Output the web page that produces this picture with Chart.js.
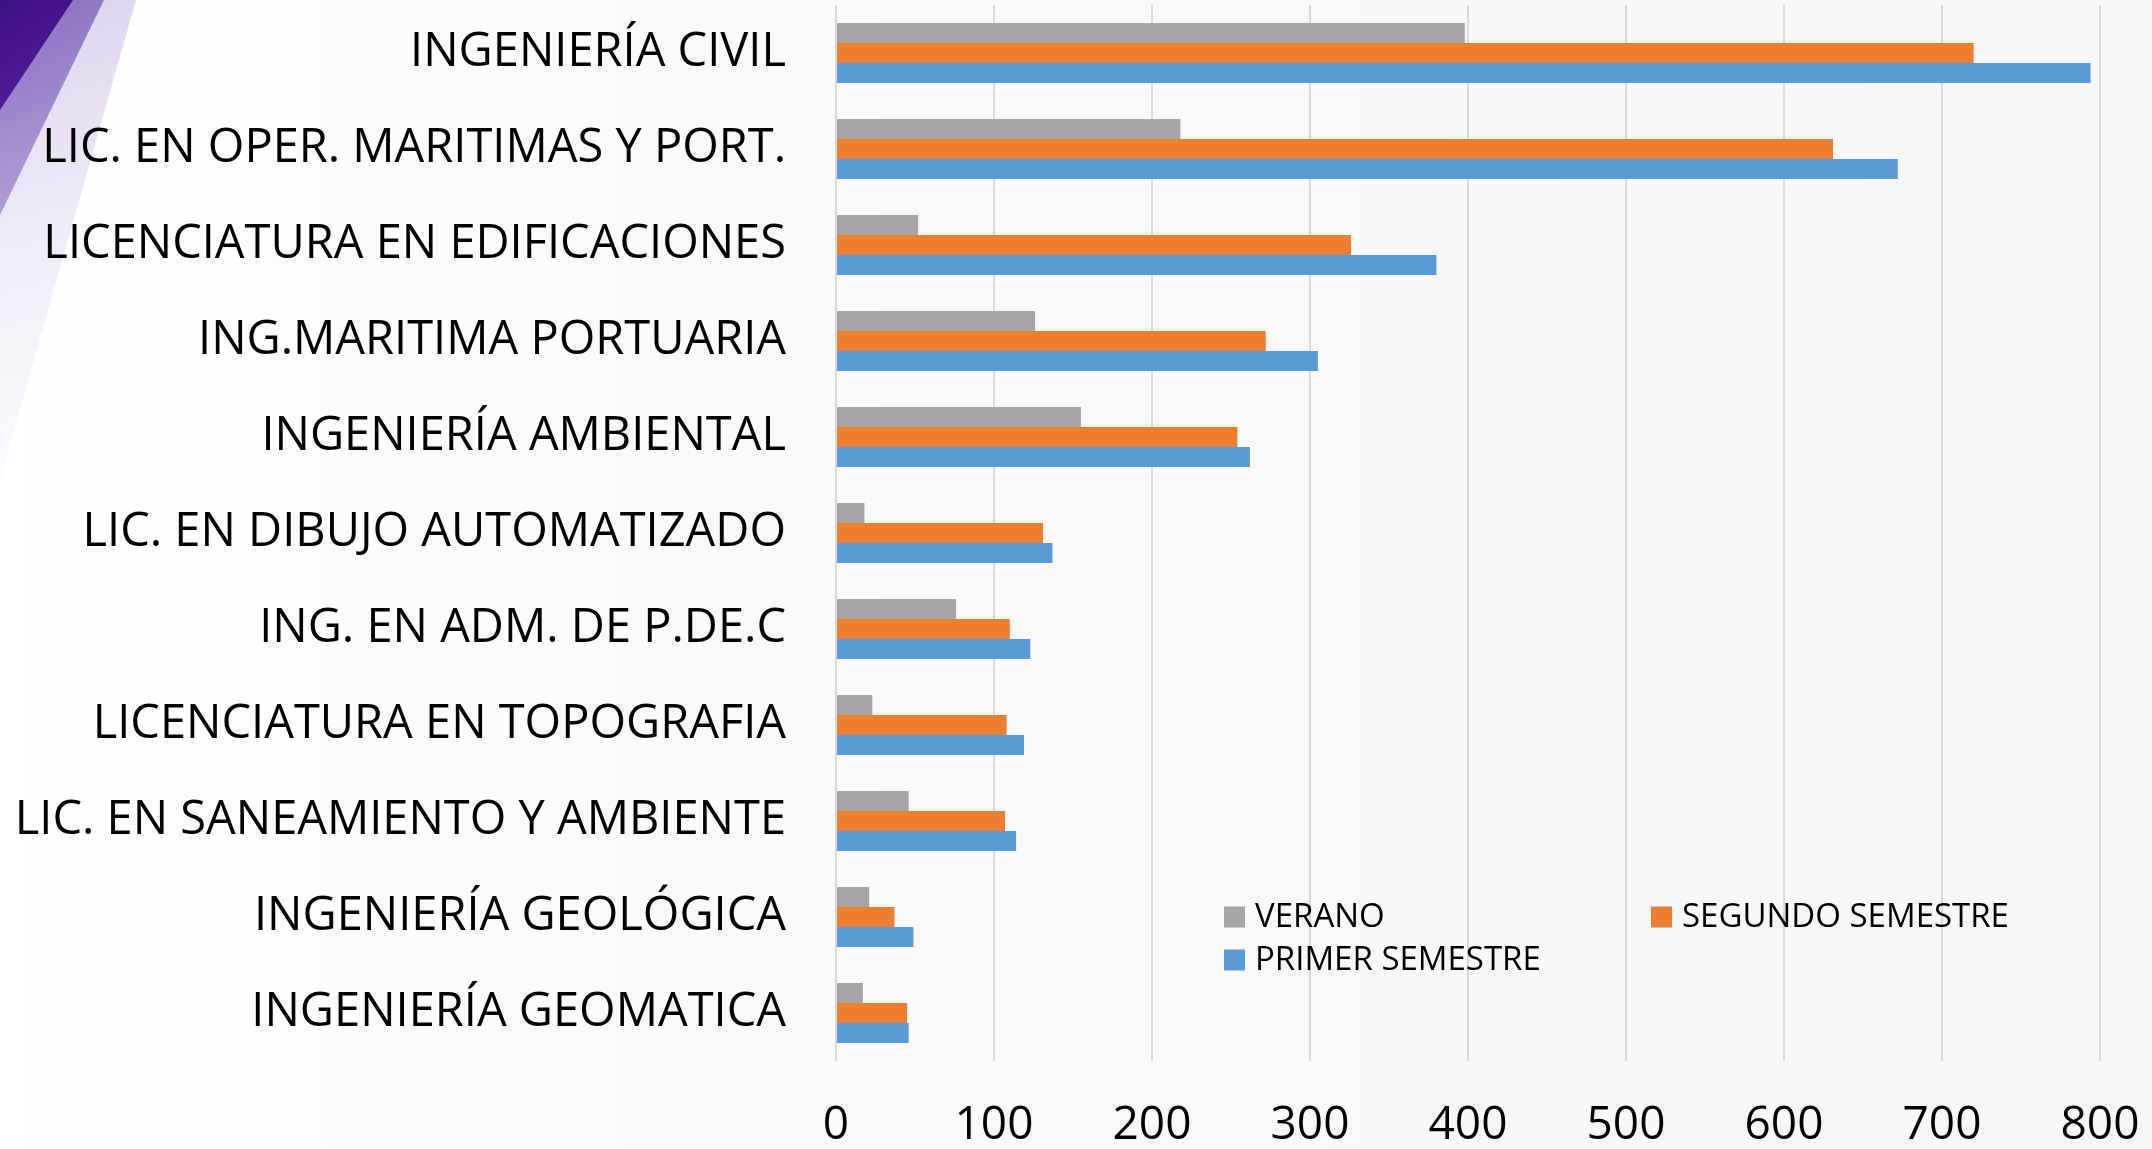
<!DOCTYPE html>
<html>
<head>
<meta charset="utf-8">
<script src="https://cdn.jsdelivr.net/npm/chart.js@4/dist/chart.umd.min.js"></script>
<style>
  html, body { margin: 0; padding: 0; background: #f7f7f7; }
  #wrap { width: 2152px; height: 1149px; position: relative; }
  canvas { display: block; }
</style>
</head>
<body>
<div id="wrap"><canvas id="c" width="2152" height="1149"></canvas></div>
<script>
// ---- data ----
const categories = [
  'INGENIERÍA CIVIL',
  'LIC. EN OPER. MARITIMAS Y PORT.',
  'LICENCIATURA EN EDIFICACIONES',
  'ING.MARITIMA PORTUARIA',
  'INGENIERÍA AMBIENTAL',
  'LIC. EN DIBUJO AUTOMATIZADO',
  'ING. EN ADM. DE P.DE.C',
  'LICENCIATURA EN TOPOGRAFIA',
  'LIC. EN SANEAMIENTO Y AMBIENTE',
  'INGENIERÍA GEOLÓGICA',
  'INGENIERÍA GEOMATICA'
];
const seriesNames = ['VERANO', 'SEGUNDO SEMESTRE', 'PRIMER SEMESTRE'];
const verano  = [398, 218, 52, 126, 155, 18, 76, 23, 46, 21, 17];
const segundo = [720, 631, 326, 272, 254, 131, 110, 108, 107, 37, 45];
const primer  = [794, 672, 380, 305, 262, 137, 123, 119, 114, 49, 46];
const xTicks  = [0, 100, 200, 300, 400, 500, 600, 700, 800];

const colors = ['#A5A5A5', '#ED7D31', '#5B9BD5'];
const FONT = "'Open Sans', 'DejaVu Sans', sans-serif";

// background + decoration
const bgPlugin = {
  id: 'bg',
  beforeDraw(chart) {
    const ctx = chart.ctx;
    const W = chart.width, H = chart.height;
    ctx.save();
    const g = ctx.createLinearGradient(0, 0, W, 0);
    g.addColorStop(0, '#ffffff');
    g.addColorStop(0.35, '#f9f9f9');
    g.addColorStop(1, '#f6f6f6');
    ctx.fillStyle = g;
    ctx.fillRect(0, 0, W, H);

    // pale lavender band
    let lg = ctx.createLinearGradient(0, 0, 140, 480);
    lg.addColorStop(0, 'rgba(215,205,235,0.9)');
    lg.addColorStop(1, 'rgba(240,236,248,0.2)');
    ctx.fillStyle = lg;
    ctx.beginPath();
    ctx.moveTo(100, 0); ctx.lineTo(136, 0); ctx.lineTo(0, 480); ctx.lineTo(0, 200);
    ctx.closePath(); ctx.fill();

    // medium purple band
    lg = ctx.createLinearGradient(0, 0, 100, 220);
    lg.addColorStop(0, '#8a6cc0');
    lg.addColorStop(1, '#b9a8dc');
    ctx.fillStyle = lg;
    ctx.beginPath();
    ctx.moveTo(70, 0); ctx.lineTo(104, 0); ctx.lineTo(0, 215); ctx.lineTo(0, 108);
    ctx.closePath(); ctx.fill();

    // dark purple triangle
    lg = ctx.createLinearGradient(0, 0, 72, 110);
    lg.addColorStop(0, '#3f0f85');
    lg.addColorStop(1, '#5522a0');
    ctx.fillStyle = lg;
    ctx.beginPath();
    ctx.moveTo(0, 0); ctx.lineTo(73, 0); ctx.lineTo(0, 110);
    ctx.closePath(); ctx.fill();
    ctx.restore();
  }
};

// legend drawn inside plot area, two columns
const legendPlugin = {
  id: 'customLegend',
  afterDraw(chart) {
    const ctx = chart.ctx;
    const a = chart.chartArea;
    const col1 = a.left + 388, col2 = a.left + 815;
    const row1 = a.top + 912, row2 = a.top + 955;
    const pos = [[col1, row1], [col2, row1], [col1, row2]];
    ctx.save();
    ctx.font = '33px ' + FONT;
    ctx.textBaseline = 'middle';
    ctx.textAlign = 'left';
    chart.data.datasets.forEach((ds, i) => {
      const [x, y] = pos[i];
      ctx.fillStyle = ds.backgroundColor;
      ctx.fillRect(x, y - 10.5, 21, 21);
      ctx.fillStyle = '#000000';
      ctx.fillText(ds.label, x + 31, y + 1);
    });
    ctx.restore();
  }
};

new Chart(document.getElementById('c'), {
  type: 'bar',
  data: {
    labels: categories,
    datasets: [
      { label: seriesNames[0], data: verano,  backgroundColor: colors[0] },
      { label: seriesNames[1], data: segundo, backgroundColor: colors[1] },
      { label: seriesNames[2], data: primer,  backgroundColor: colors[2] }
    ]
  },
  options: {
    indexAxis: 'y',
    responsive: false,
    animation: false,
    devicePixelRatio: 1,
    layout: { padding: { top: 5, right: 52, bottom: 0, left: 0 } },
    datasets: { bar: { categoryPercentage: 0.625, barPercentage: 1.0, borderWidth: 0 } },
    plugins: {
      legend: { display: false },
      tooltip: { enabled: false }
    },
    scales: {
      x: {
        min: xTicks[0],
        max: xTicks[xTicks.length - 1],
        afterBuildTicks(scale) { scale.ticks = xTicks.map(v => ({ value: v })); },
        afterFit(scale) { scale.paddingLeft = 0; scale.paddingRight = 0; scale.height = 88; },
        grid: { color: '#d9d9d9', lineWidth: 2, drawTicks: false },
        border: { display: false },
        ticks: {
          padding: 42,
          color: '#000000',
          font: { family: FONT, size: 46, lineHeight: 1 }
        }
      },
      y: {
        grid: { display: false, drawTicks: false },
        border: { display: false },
        afterFit(scale) { scale.width = 836; scale.paddingTop = 0; scale.paddingBottom = 0; },
        ticks: {
          padding: 50,
          color: '#000000',
          font: { family: FONT, size: 47 }
        }
      }
    }
  },
  plugins: [bgPlugin, legendPlugin]
});
</script>
</body>
</html>
